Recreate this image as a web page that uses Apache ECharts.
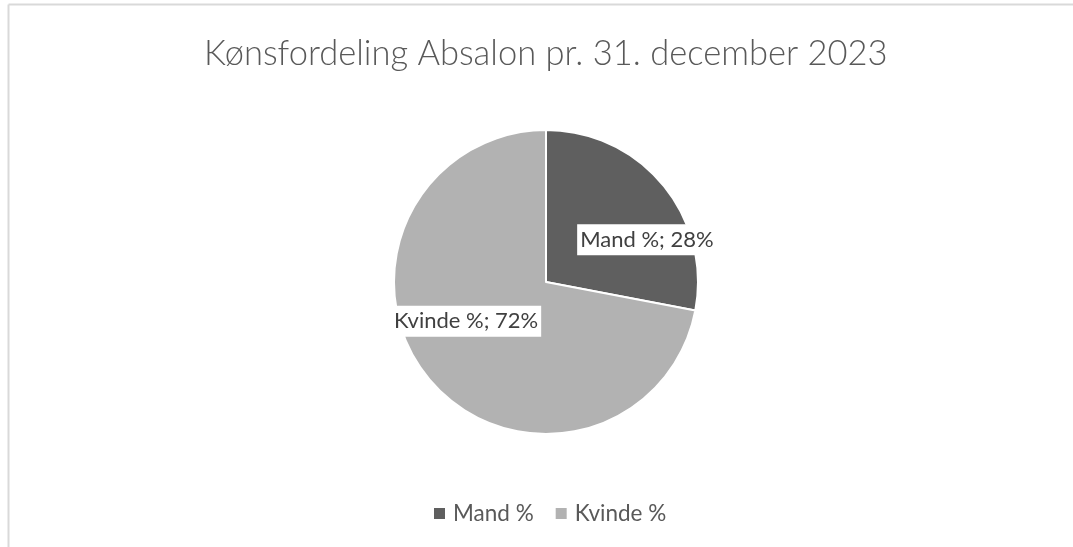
<!DOCTYPE html>
<html>
<head>
<meta charset="utf-8">
<script src="https://cdn.jsdelivr.net/npm/echarts@6/dist/echarts.min.js"></script>
<style>
html,body{margin:0;padding:0;background:#fff;}
#chart{width:1073px;height:547px;}
</style>
</head>
<body>
<div id="chart"></div>
<script>
const titleText = 'Kønsfordeling Absalon pr. 31. december 2023';
const categories = ['Mand %', 'Kvinde %'];
const values = [28, 72];
const colors = ['#5f5f5f', '#b2b2b2'];
const labelShift = [[40, 8], [-19, -11]];

const chart = echarts.init(document.getElementById('chart'));
chart.setOption({
  backgroundColor: '#ffffff',
  animation: false,
  title: {
    text: titleText,
    left: 199,
    top: 31,
    textStyle: { fontFamily: 'Lato', fontWeight: 300, fontSize: 34.5, color: '#595959' }
  },
  legend: {
    data: categories,
    top: 497,
    left: 427,
    icon: 'rect',
    itemWidth: 13,
    itemHeight: 13,
    itemGap: 20,
    textStyle: { fontFamily: 'Lato', fontSize: 22.5, color: '#595959', padding: [0, 0, 0, 2] }
  },
  graphic: [
    { type: 'line', shape: { x1: 8.5, y1: 4.5, x2: 1073, y2: 4.5 }, style: { stroke: '#d9d9d9', lineWidth: 2 } },
    { type: 'line', shape: { x1: 8.5, y1: 4.5, x2: 8.5, y2: 547 }, style: { stroke: '#d9d9d9', lineWidth: 2 } }
  ],
  series: [{
    type: 'pie',
    center: [546, 282],
    radius: 152,
    startAngle: 90,
    clockwise: true,
    itemStyle: { borderColor: '#ffffff', borderWidth: 2 },
    label: {
      show: true,
      position: 'inside',
      formatter: function (p) { return p.name + '; ' + p.value + '%'; },
      fontFamily: 'Lato',
      fontSize: 22,
      color: '#404040',
      backgroundColor: '#ffffff',
      padding: [5, 3, 4, 3]
    },
    labelLayout: function (params) {
      const s = labelShift[params.dataIndex];
      return { dx: s[0], dy: s[1] };
    },
    emphasis: { disabled: true },
    data: categories.map((c, i) => ({ name: c, value: values[i], itemStyle: { color: colors[i] } }))
  }]
});
</script>
</body>
</html>
